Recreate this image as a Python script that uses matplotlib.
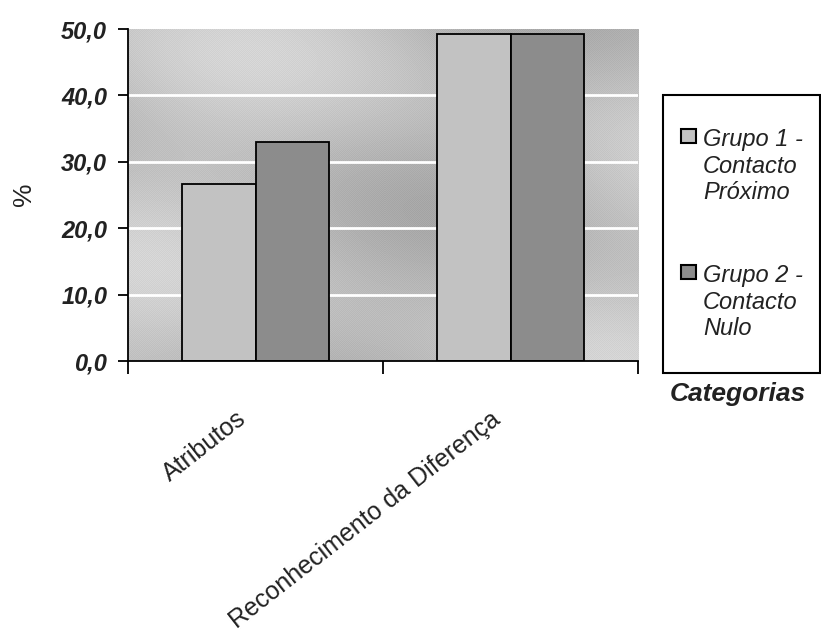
import numpy as np
import matplotlib
matplotlib.use("Agg")
import matplotlib.pyplot as plt
from matplotlib.patches import Rectangle
from matplotlib.transforms import ScaledTranslation

categories = ["Atributos", "Reconhecimento da Diferença"]
grupo1 = [26.6, 49.3]
grupo2 = [33.0, 49.3]
series_labels = ["Grupo 1 -\nContacto\nPróximo", "Grupo 2 -\nContacto\nNulo"]
yticks = [0, 10, 20, 30, 40, 50]
ytick_labels = ["0,0", "10,0", "20,0", "30,0", "40,0", "50,0"]
ylabel = "%"
xlabel = "Categorias"

plt.rcParams['font.family'] = ['Liberation Sans', 'DejaVu Sans']

W, H = 821, 639
fig = plt.figure(figsize=(W / 100, H / 100), dpi=100)
ax = fig.add_axes([128 / W, 1 - 361 / H, 510 / W, 332 / H])

c1 = "#c2c2c2"
c2 = "#8c8c8c"
txt = "#222222"

# textured gray background
ny, nx = 332, 510
yy, xx = np.mgrid[0:ny, 0:nx]
bg = (0.73 + 0.05 * np.sin(xx / nx * 6.0 + yy / ny * 2.0)
      + 0.04 * np.cos(yy / ny * 9.0 - xx / nx * 3.0))
bg += 0.03 * ((xx + yy) % 2)
ax.imshow(bg, cmap='gray', vmin=0, vmax=1, extent=[0, 1, 0, 1],
          transform=ax.transAxes, aspect='auto', zorder=0,
          interpolation='nearest')

x = np.arange(len(categories))
w = 0.29
ax.bar(x - w / 2, grupo1, w, color=c1, edgecolor='black', linewidth=1.3, zorder=3)
ax.bar(x + w / 2, grupo2, w, color=c2, edgecolor='black', linewidth=1.3, zorder=3)

ax.set_xlim(-0.5, len(categories) - 0.5)
ax.set_ylim(0, 50)

for yv in yticks[1:-1]:
    ax.axhline(yv, color='white', linewidth=2, zorder=1)

for s in ['top', 'right']:
    ax.spines[s].set_visible(False)
for s in ['left', 'bottom']:
    ax.spines[s].set_linewidth(1.3)
    ax.spines[s].set_zorder(4)

ax.set_yticks(yticks)
ax.set_yticklabels(ytick_labels, fontsize=17, fontweight='bold', fontstyle='italic',
                   color=txt)
ax.tick_params(axis='y', direction='out', length=7, width=1.3, pad=8)

ax.set_xticks(np.arange(len(categories) + 1) - 0.5)
ax.set_xticklabels([])
ax.tick_params(axis='x', which='major', direction='out', length=9, width=1.3)
ax.set_xticks(x, minor=True)
ax.set_xticklabels(categories, minor=True, rotation=38, ha='right',
                   rotation_mode='anchor', fontsize=18, color=txt)
ax.tick_params(axis='x', which='minor', length=0, pad=33)
for lab in ax.get_xticklabels(minor=True):
    lab.set_transform(lab.get_transform() + ScaledTranslation(-20 / 100, 0, fig.dpi_scale_trans))

fig.text(24 / W, 1 - 194 / H, ylabel, rotation=90, fontsize=19, ha='center', va='center',
         color=txt)
fig.text(670 / W, 1 - 401 / H, xlabel, fontsize=19, fontweight='bold', fontstyle='italic',
         ha='left', va='baseline', color=txt)

# legend box
fig.patches.append(Rectangle((663 / W, 1 - 373 / H), (820 - 663) / W, (373 - 95) / H,
                             transform=fig.transFigure, facecolor='white',
                             edgecolor='black', linewidth=1.5, zorder=1))
for lbl, col, top in zip(series_labels, [c1, c2], [128, 264]):
    fig.patches.append(Rectangle((681 / W, 1 - (top + 15) / H), 15 / W, 14 / H,
                                 transform=fig.transFigure, facecolor=col,
                                 edgecolor='black', linewidth=1.5, zorder=2))
    fig.text(703 / W, 1 - top / H, lbl, fontsize=17, fontstyle='italic', ha='left',
             va='top', linespacing=1.2, color=txt)

fig.savefig("out.png", dpi=100)
